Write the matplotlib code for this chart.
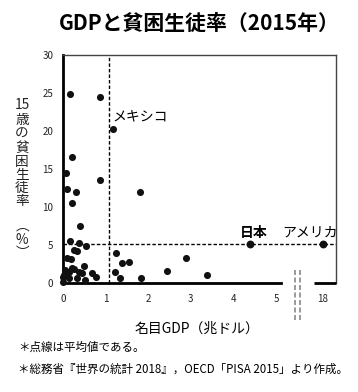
import matplotlib
matplotlib.use("Agg")
import matplotlib.pyplot as plt
import numpy as np

plt.rcParams['font.family'] = ['Noto Sans CJK JP', 'DejaVu Sans']

# GDP (trillion USD) and poverty rate of 15-year-olds (%)
gdp = [0.17, 0.86, 1.17, 0.20, 0.06, 0.86, 0.09, 0.30, 1.81, 0.20, 0.40,
       0.17, 0.37, 0.53, 0.25, 0.32, 1.25,
       0.10, 0.18, 1.38, 1.55, 0.50, 2.43, 0.69, 1.21, 0.77, 1.33, 1.84,
       2.89, 3.38,
       0.20, 0.05, 0.13, 0.25, 0.37, 0.44, 0.01, 0.13, 0.33, 0.52, 0.01,
       0.03]
rate = [24.8, 24.4, 20.2, 16.6, 14.5, 13.6, 12.3, 12.0, 12.0, 10.5, 7.5,
        5.5, 5.2, 4.9, 4.4, 4.2, 4.0,
        3.3, 3.1, 2.6, 2.8, 2.3, 1.6, 1.3, 1.4, 0.75, 0.6, 0.7,
        3.3, 1.1,
        2.0, 1.7, 1.5, 1.9, 1.5, 1.3, 0.8, 0.6, 0.6, 0.4, 0.2,
        1.1]
japan = (4.38, 5.15)
usa = (18.0, 5.15)
mexico = (1.17, 20.2)
mean_gdp = 1.07
mean_rate = 5.15

xticks = [0, 1, 2, 3, 4, 5, 18]
yticks = [0, 5, 10, 15, 20, 25, 30]

# broken x axis: 5.6..17.6 squeezed into 0.1
G1, G2, W = 5.6, 17.6, 0.1


def fwd(x):
    x = np.asarray(x, dtype=float)
    return np.where(x <= G1, x,
                    np.where(x >= G2, x - (G2 - G1) + W,
                             G1 + (x - G1) * W / (G2 - G1)))


def inv(y):
    y = np.asarray(y, dtype=float)
    return np.where(y <= G1, y,
                    np.where(y >= G1 + W, y + (G2 - G1) - W,
                             G1 + (y - G1) * (G2 - G1) / W))


fig = plt.figure(figsize=(3.58, 3.92), dpi=100)
ax = fig.add_axes([0.176, 0.278, 0.762, 0.582])
ax.set_xscale('function', functions=(fwd, inv))
ax.set_xlim(0, 18.3)
ax.set_ylim(0, 30)

ax.axvline(mean_gdp, color='black', lw=1, ls=(0, (2.5, 1.5)), zorder=1)
ax.axhline(mean_rate, color='black', lw=1, ls=(0, (2.5, 1.5)), zorder=1)

ax.scatter(gdp, rate, s=26, color='#111111', zorder=3, clip_on=False,
           linewidths=0)
ax.scatter([japan[0], usa[0]], [japan[1], usa[1]], s=32, color='#111111',
           zorder=3, linewidths=0)

ax.text(mexico[0], mexico[1] + 1.6, 'メキシコ', fontsize=10,
        ha='left', va='center')
ax.text(japan[0] + 0.1, japan[1] + 1.45, '日本', fontsize=10,
        fontweight='bold', ha='center', va='center')
ax.text(usa[0] - 0.31, usa[1] + 1.45, 'アメリカ', fontsize=10,
        ha='center', va='center')

ax.set_xticks(xticks)
ax.set_xticklabels([str(t) for t in xticks])
ax.set_yticks(yticks)
ax.tick_params(length=0, labelsize=7, colors='#222222')
ax.tick_params(axis='y', pad=7)
ax.tick_params(axis='x', pad=8)

for s in ['top', 'right']:
    ax.spines[s].set_linewidth(1.0)
    ax.spines[s].set_color('#444444')
ax.spines['left'].set_linewidth(2)
ax.spines['bottom'].set_linewidth(2)
ax.spines['bottom'].set_bounds(0, 5.12)
ax.plot([17.78, 18.3], [0, 0], color='black', lw=2, clip_on=False,
        solid_capstyle='butt', zorder=4)

# break marks
bt = ax.get_xaxis_transform()
for bx in [5.45, 5.55]:
    ax.plot([bx, bx], [0.057, -0.162], transform=bt, color='#888888',
            lw=1.2, ls=(0, (3, 1.5)), clip_on=False)

ax.set_xlabel('名目GDP（兆ドル）', fontsize=10)
ax.xaxis.set_label_coords(0.49, -0.17)

fig.text(0.556, 0.939, 'GDPと貧困生徒率（2015年）', fontsize=15,
         fontweight='bold', ha='center', va='center')

# vertical y label
ylab = ['15', '歳', 'の', '貧', '困', '生', '徒', '率', '︵', '%', '︶']
ypos = [105, 120, 134, 148, 162, 175, 188, 201, 227, 240, 253]
for ch, yp in zip(ylab, ypos):
    fig.text(22 / 358, 1 - yp / 392, ch, fontsize=9.8, ha='center',
             va='center', color='#222222')

fig.text(18 / 358, 1 - 347 / 392, '＊点線は平均値である。', fontsize=8.3,
         ha='left', va='center')
fig.text(18 / 358, 1 - 369 / 392,
         '＊総務省『世界の統計 2018』，OECD「PISA 2015」より作成。',
         fontsize=8.3, ha='left', va='center')

fig.savefig('out.png', dpi=100)
